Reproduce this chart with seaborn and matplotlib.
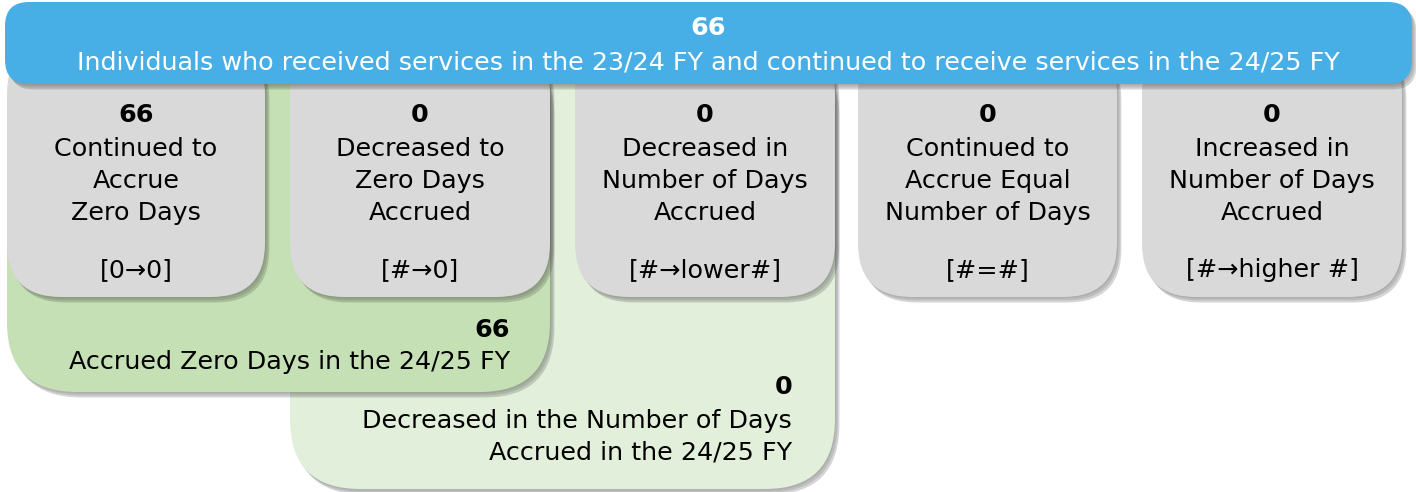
import matplotlib
matplotlib.use("Agg")
import matplotlib.pyplot as plt
from matplotlib.patches import FancyBboxPatch
import seaborn as sns

# ---- data ----
header_count = 66
header_label = "Individuals who received services in the 23/24 FY and continued to receive services in the 24/25 FY"

category_counts = [66, 0, 0, 0, 0]
category_labels = [
    ["Continued to", "Accrue", "Zero Days"],
    ["Decreased to", "Zero Days", "Accrued"],
    ["Decreased in", "Number of Days", "Accrued"],
    ["Continued to", "Accrue Equal", "Number of Days"],
    ["Increased in", "Number of Days", "Accrued"],
]
category_codes = ["[0\u21920]", "[#\u21920]", "[#\u2192lower#]", "[#=#]", "[#\u2192higher #]"]

group_counts = [66, 0]
group_labels = [
    ["Accrued Zero Days in the 24/25 FY"],
    ["Decreased in the Number of Days", "Accrued in the 24/25 FY"],
]

# ---- styling ----
sns.set_theme(style="white")
plt.rcParams['font.family'] = ['DejaVu Sans']
plt.rcParams['text.color'] = 'black'

BLUE = "#48AFE6"
GRAY = "#D9D9D9"
DKGREEN = "#C5E0B4"
LTGREEN = "#E2EFDA"

fig = plt.figure(figsize=(14.16, 4.92), dpi=100)
ax = fig.add_axes([0, 0, 1, 1])
ax.set_xlim(0, 1416)
ax.set_ylim(492, 0)
ax.axis("off")
fig.patch.set_facecolor("white")


def rbox(x0, y0, x1, y1, color, r, z, shadow=True):
    if shadow:
        for k, a in enumerate([0.10, 0.14, 0.20]):
            off = 1.5 + k * 2.0
            ax.add_patch(FancyBboxPatch((x0 + off * 0.8, y0 + off), x1 - x0, y1 - y0,
                                        boxstyle=f"round,pad=0,rounding_size={r}",
                                        fc="#303030", ec="none", alpha=a, zorder=z - 0.5))
    ax.add_patch(FancyBboxPatch((x0, y0), x1 - x0, y1 - y0,
                                boxstyle=f"round,pad=0,rounding_size={r}",
                                fc=color, ec="none", zorder=z))


FS = 18.3

# light green group box
rbox(290, 40, 835, 489, LTGREEN, 70, 1)
# dark green group box
rbox(7, 40, 550, 392, DKGREEN, 70, 2)

# gray category boxes
box_x = [(7, 265), (290, 550), (575, 835), (858, 1117), (1142, 1402)]
for (x0, x1), n, lab, code in zip(box_x, category_counts, category_labels, category_codes):
    rbox(x0, 40, x1, 297, GRAY, 54, 3)
    cx = (x0 + x1) / 2
    ax.text(cx, 115, str(n), ha="center", va="center", fontsize=FS, fontweight="bold",
            color="black", zorder=10)
    for i, line in enumerate(lab):
        ax.text(cx, 149 + 32 * i, line, ha="center", va="center", fontsize=FS,
                color="black", zorder=10)
    ax.text(cx, 270, code, ha="center", va="center", fontsize=FS, color="black", zorder=10)

# group text
ax.text(510, 330, str(group_counts[0]), ha="right", va="center", fontsize=FS,
        fontweight="bold", color="black", zorder=10)
ax.text(510, 362, group_labels[0][0], ha="right", va="center", fontsize=FS,
        color="black", zorder=10)
ax.text(792, 387, str(group_counts[1]), ha="right", va="center", fontsize=FS,
        fontweight="bold", color="black", zorder=10)
for i, line in enumerate(group_labels[1]):
    ax.text(792, 421 + 32 * i, line, ha="right", va="center", fontsize=FS,
            color="black", zorder=10)

# blue header
rbox(5, 2, 1412, 84, BLUE, 24, 5)
ax.text(708, 28, str(header_count), ha="center", va="center", fontsize=FS,
        fontweight="bold", color="white", zorder=10)
ax.text(708, 62, header_label, ha="center", va="center", fontsize=FS,
        color="white", zorder=10)

fig.savefig("out.png", dpi=100, facecolor="white")
